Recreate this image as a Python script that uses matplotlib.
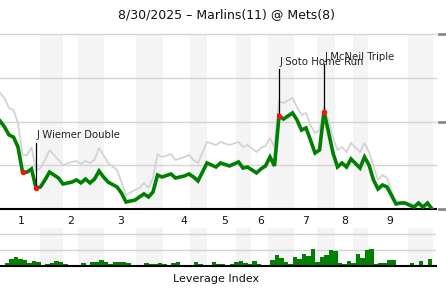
import matplotlib
matplotlib.use("Agg")
import matplotlib.pyplot as plt

# -----------------------------
# Data
# -----------------------------
title = "8/30/2025 \u2013 Marlins(11) @ Mets(8)"

# play index and home win probability (%)
plays = [0, 1, 2, 3, 4, 5, 6, 7, 8, 9, 10, 11, 13, 14, 16, 17, 18, 19, 20, 21,
         22, 23, 24, 26, 27, 28, 30, 31, 32, 33, 34, 35, 36, 38, 39, 41, 42, 43, 44, 46,
         48, 49, 51, 53, 54, 55, 57, 58, 59, 60, 61, 62, 63, 65, 66, 67, 68, 69, 70, 71,
         72, 73, 74, 75, 76, 77, 78, 80, 81, 82, 83, 84, 85, 86, 88, 89, 90, 92, 93, 94,
         95, 96]
win_prob = [50.3, 46.9, 42.3, 41.1, 35.4, 21.1, 21.1, 22.9, 12.0, 12.6, 16.6, 21.1, 17.7, 14.3, 15.4, 16.6, 14.9, 17.1, 14.9, 17.1,
            21.7, 18.3, 15.4, 12.6, 9.1, 4.0, 5.1, 6.9, 8.6, 6.9, 9.7, 19.4, 18.3, 20.0, 17.7, 18.9, 20.0, 18.3, 16.0, 26.3,
            24.0, 26.3, 24.6, 26.9, 23.4, 24.0, 20.6, 22.9, 24.6, 29.7, 24.6, 53.1, 51.4, 54.9, 50.9, 45.1, 46.3, 39.4, 32.0, 33.7,
            55.4, 44.0, 32.0, 24.0, 26.3, 24.0, 28.6, 23.4, 29.7, 25.1, 16.6, 11.4, 13.7, 12.6, 2.9, 3.4, 3.4, 1.1, 3.4, 1.1,
            3.4, 0.0]
# the light gray comparison line
gray_prob = [66.3, 63.4, 57.7, 56.6, 49.1, 30.9, 30.9, 35.4, 21.7, 23.4, 28.0, 33.7, 28.0, 25.1, 26.9, 27.4, 25.7, 27.4, 26.3, 28.0,
             34.9, 30.9, 26.3, 22.3, 15.4, 8.0, 10.9, 12.0, 14.9, 12.0, 17.7, 31.4, 29.7, 31.4, 28.0, 29.7, 30.9, 28.0, 26.3, 38.3,
             36.6, 38.3, 36.6, 38.3, 35.4, 36.6, 32.6, 34.9, 36.0, 40.6, 35.4, 61.7, 60.6, 63.4, 58.3, 53.7, 54.9, 48.0, 43.4, 45.1,
             58.3, 50.9, 40.6, 33.7, 35.4, 32.6, 37.7, 32.6, 37.7, 32.6, 24.6, 16.6, 19.4, 17.7, 3.4, 4.0, 4.0, 1.7, 4.0, 1.7,
             4.0, 0.6]

# leverage index per play (bar i covers play i..i+1)
lev_plays = list(range(1, 96))
leverage = [0.34, 0.84, 1.09, 0.88, 0.75, 0.41, 0.63, 0.50, 0.13, 0.25,
            0.41, 0.63, 0.50, 0.25, 0.13, 0.0, 0.0, 0.41, 0.13, 0.54,
            0.46, 0.75, 0.50, 0.29, 0.46, 0.50, 0.50, 0.38, 0.13, 0.0,
            0.13, 0.38, 0.25, 0.25, 0.38, 0.25, 0.13, 0.38, 0.50, 0.13,
            0.13, 0.0, 0.50, 0.25, 0.13, 0.13, 0.50, 0.25, 0.25, 0.13,
            0.25, 0.50, 0.63, 0.41, 0.29, 0.63, 0.25, 0.13, 0.13, 0.75,
            1.38, 1.00, 0.54, 0.25, 1.13, 0.88, 1.50, 1.25, 2.13, 0.50,
            1.13, 1.38, 2.00, 1.91, 0.38, 0.25, 0.63, 0.38, 1.50, 1.00,
            2.00, 2.13, 0.25, 0.38, 0.38, 0.75, 0.75, 0.0, 0.0, 0.0,
            0.38, 0.13, 0.63, 0.13, 0.88]

# bottom half-inning shading (play units)
band_start = [8.9, 17.3, 30.2, 42.2, 52.4, 59.6, 70.4, 78.4, 90.7]
band_end = [14.0, 23.1, 36.2, 46.0, 55.8, 65.3, 74.4, 81.8, 96.2]

inning_pos = [4.7, 15.6, 26.9, 40.9, 50.0, 58.0, 68.0, 76.7, 86.7]
inning_labels = ["1", "2", "3", "4", "5", "6", "7", "8", "9"]

# key plays: (play, label)
event_plays = [5, 8, 62, 72]
event_labels = ["", "J Wiemer Double", "J Soto Home Run", "J McNeil Triple"]
event_text_y = [0, 42, 84, 87]

GREEN = "#008000"
GRAY = "#d3d3d3"
BAND = "#f4f4f4"
GRID = "#d4d4d4"

plt.rcParams['font.family'] = ['DejaVu Sans']

fig = plt.figure(figsize=(4.46, 3.0), dpi=100)
W, H = 446.0, 300.0
xmax = 436 / 4.5

# -----------------------------
# Win probability panel
# -----------------------------
ax = fig.add_axes([0, (H - 209) / H, 436 / W, 175 / H])
for s, e in zip(band_start, band_end):
    ax.axvspan(s, e, color=BAND, lw=0, zorder=0)
for v in [25, 50, 75, 100]:
    ax.axhline(v, color=GRID, lw=1, zorder=1, clip_on=False)
ax.plot(plays, gray_prob, color=GRAY, lw=1.3, zorder=2, solid_joinstyle='miter')
ax.plot(plays, win_prob, color=GREEN, lw=2.6, zorder=3, solid_joinstyle='miter')

for p, lab, ty in zip(event_plays, event_labels, event_text_y):
    v = win_prob[plays.index(p)]
    ax.scatter([p], [v], s=16, color="#ff1010", zorder=5, lw=0)
    if lab:
        ax.plot([p, p], [v, ty - 4], color="black", lw=0.9, zorder=4)
        ax.text(p + 0.1, ty, lab, fontsize=7.3, color="#222222",
                ha="left", va="center", zorder=6)

ax.set_xlim(0, xmax)
ax.set_ylim(0, 100)
for s in ["top", "right", "left"]:
    ax.spines[s].set_visible(False)
ax.spines["bottom"].set_color("black")
ax.spines["bottom"].set_linewidth(1.5)
ax.set_yticks([])
ax.set_xticks(inning_pos, inning_labels)
ax.tick_params(axis="x", length=0, pad=5, labelsize=7.8, labelcolor="#111111")

# small gray marks on the right at 0, 50, 100
ytr = ax.get_yaxis_transform()
for v in [0, 50, 100]:
    ax.plot([439 / 436, 446 / 436], [v, v], color="#888888", lw=2,
            transform=ytr, clip_on=False)

# -----------------------------
# Leverage panel
# -----------------------------
lev = fig.add_axes([0, (H - 266) / H, 436 / W, 38 / H])
for s, e in zip(band_start, band_end):
    lev.axvspan(s, e, color=BAND, lw=0, zorder=0)
for v in [2, 4]:
    lev.axhline(v, color=GRID, lw=1, zorder=1)
lev.bar(lev_plays, leverage, width=1.0, align="edge", color=GREEN, lw=0, zorder=2)
lev.set_xlim(0, xmax)
lev.set_ylim(0, 4.75)
for s in ["top", "right", "left"]:
    lev.spines[s].set_visible(False)
lev.spines["bottom"].set_linewidth(1.5)
lev.set_xticks([])
lev.set_yticks([])

fig.text(216 / W, 1 - 279 / H, "Leverage Index", ha="center", va="center",
         fontsize=8, color="#111111")
fig.text(0.507, 1 - 15 / H, title, ha="center", va="center",
         fontsize=9, color="#111111")

fig.savefig("out.png", dpi=100)
